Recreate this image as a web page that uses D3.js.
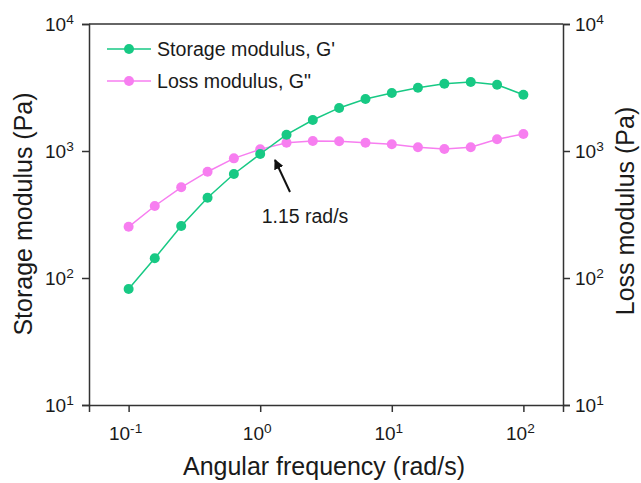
<!DOCTYPE html>
<html>
<head>
<meta charset="utf-8">
<script src="https://cdn.jsdelivr.net/npm/d3@7"></script>
<style>
  body { margin: 0; background: #fff; }
  svg { font-family: Arial, "Liberation Sans", sans-serif; }
</style>
</head>
<body>
<svg class="main-svg" width="641" height="483"></svg>
<script>
// angular frequency (rad/s)
var freq = [0.1, 0.158, 0.251, 0.398, 0.631, 1, 1.585, 2.51, 3.98, 6.31,
            10, 15.8, 25.1, 39.8, 63.1, 100];
// storage modulus G' (Pa)
var storage = [82, 143, 257, 429, 659, 947, 1344, 1755, 2183, 2566,
               2866, 3150, 3389, 3494, 3323, 2773];
// loss modulus G'' (Pa)
var loss = [253, 369, 518, 687, 875, 1030, 1161, 1200, 1192, 1161,
            1130, 1069, 1038, 1069, 1236, 1362];
var xTickExp = [-1, 0, 1, 2];
var yTickExp = [1, 2, 3, 4];
var seriesNames = ["Storage modulus, G'", 'Loss modulus, G"'];

var green = '#17c984',
    pink = '#f77ef0',
    axisColour = '#333',
    textColour = '#1a1a1a';

var margin = {left: 89, right: 78, top: 24, bottom: 78},
    width = 641, height = 483;

var svg = d3.select('.main-svg');

var x = d3.scaleLog().domain([0.05, 200]).range([margin.left, width - margin.right]);
var y = d3.scaleLog().domain([10, 10000]).range([height - margin.bottom, margin.top]);

function pow10Label(sel, e) {
  sel.text('10').append('tspan').attr('dy', '-0.5em').attr('font-size', '0.72em').text(e);
}

var xAxis = svg.append('g')
  .attr('transform', 'translate(0,' + (height - margin.bottom) + ')')
  .call(d3.axisBottom(x).tickValues(xTickExp.map(e => Math.pow(10, e))).tickSize(7).tickFormat(''));
var yLeft = svg.append('g')
  .attr('transform', 'translate(' + margin.left + ',0)')
  .call(d3.axisLeft(y).tickValues(yTickExp.map(e => Math.pow(10, e))).tickSize(7).tickFormat(''));
var yRight = svg.append('g')
  .attr('transform', 'translate(' + (width - margin.right) + ',0)')
  .call(d3.axisRight(y).tickValues(yTickExp.map(e => Math.pow(10, e))).tickSize(7).tickFormat(''));

svg.append('line')
  .attr('x1', margin.left).attr('x2', width - margin.right)
  .attr('y1', margin.top).attr('y2', margin.top)
  .attr('stroke', axisColour).attr('stroke-width', 1.5);

[xAxis, yLeft, yRight].forEach(g => {
  g.selectAll('path, line').attr('stroke', axisColour).attr('stroke-width', 1.5);
});

// tick labels
xTickExp.forEach(e => {
  svg.append('text')
    .attr('x', x(Math.pow(10, e)) - 3).attr('y', height - margin.bottom + 35)
    .attr('text-anchor', 'middle').attr('font-size', 19).attr('fill', textColour)
    .call(pow10Label, e);
});
yTickExp.forEach(e => {
  svg.append('text')
    .attr('x', margin.left - 44).attr('y', y(Math.pow(10, e)) + 7)
    .attr('font-size', 19).attr('fill', textColour)
    .call(pow10Label, e);
  svg.append('text')
    .attr('x', width - margin.right + 12).attr('y', y(Math.pow(10, e)) + 7)
    .attr('font-size', 19).attr('fill', textColour)
    .call(pow10Label, e);
});

// axis titles
svg.append('text')
  .attr('x', 324).attr('y', 475)
  .attr('text-anchor', 'middle').attr('font-size', 25).attr('fill', textColour)
  .text('Angular frequency (rad/s)');
svg.append('text')
  .attr('transform', 'translate(32,214) rotate(-90)')
  .attr('text-anchor', 'middle').attr('font-size', 25).attr('fill', textColour)
  .text('Storage modulus (Pa)');
svg.append('text')
  .attr('transform', 'translate(634,211) rotate(-90)')
  .attr('text-anchor', 'middle').attr('font-size', 25).attr('fill', textColour)
  .text('Loss modulus (Pa)');

// series
var line = d3.line().x(d => x(d[0])).y(d => y(d[1]));
[[loss, pink], [storage, green]].forEach(s => {
  var pts = d3.zip(freq, s[0]);
  svg.append('path').datum(pts)
    .attr('d', line).attr('fill', 'none')
    .attr('stroke', s[1]).attr('stroke-width', 1.5);
  svg.selectAll(null).data(pts).enter().append('circle')
    .attr('cx', d => x(d[0])).attr('cy', d => y(d[1])).attr('r', 5)
    .attr('fill', s[1]);
});

// legend
[[seriesNames[0], green], [seriesNames[1], pink]].forEach((s, i) => {
  var ly = 49 + i * 32;
  svg.append('line').attr('x1', 107).attr('x2', 151).attr('y1', ly).attr('y2', ly)
    .attr('stroke', s[1]).attr('stroke-width', 1.5);
  svg.append('circle').attr('cx', 129).attr('cy', ly).attr('r', 5).attr('fill', s[1]);
  svg.append('text').attr('x', 157).attr('y', ly + 7)
    .attr('font-size', 19.6).attr('fill', textColour).text(s[0]);
});

// crossover annotation
svg.append('defs').append('marker')
  .attr('id', 'arrowhead').attr('viewBox', '0 0 10 10')
  .attr('refX', 9).attr('refY', 5).attr('markerWidth', 5).attr('markerHeight', 5)
  .attr('orient', 'auto')
  .append('path').attr('d', 'M0,0 L10,5 L0,10 z').attr('fill', '#111');
svg.append('line')
  .attr('x1', 290).attr('y1', 192).attr('x2', 275).attr('y2', 160)
  .attr('stroke', '#111').attr('stroke-width', 2)
  .attr('marker-end', 'url(#arrowhead)');
svg.append('text').attr('x', 305).attr('y', 223)
  .attr('text-anchor', 'middle').attr('font-size', 19.5).attr('fill', textColour)
  .text('1.15 rad/s');
</script>
</body>
</html>
